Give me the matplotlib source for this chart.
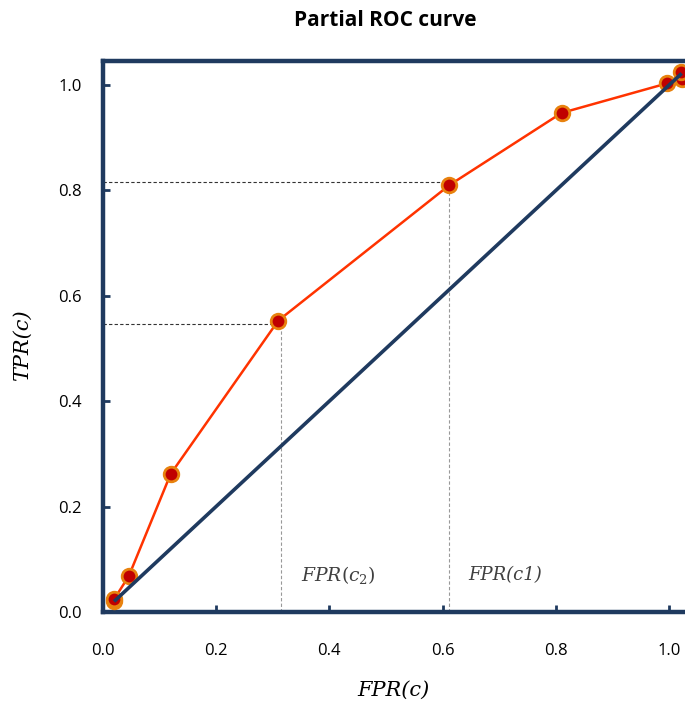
import matplotlib
matplotlib.use("Agg")
import matplotlib.pyplot as plt

plt.rcParams["mathtext.fontset"] = "dejavuserif"

# Data
fpr = [0.02, 0.02, 0.046, 0.12, 0.31, 0.612, 0.81, 0.996, 1.022, 1.02]
tpr = [0.02, 0.024, 0.068, 0.262, 0.553, 0.81, 0.947, 1.003, 1.012, 1.024]
diag_x = [0.02, 1.022]
diag_y = [0.02, 1.022]
h_ref_y = [0.546, 0.816]
h_ref_xend = [0.31, 0.612]
v_ref_x = [0.314, 0.612]
v_ref_ytop = [0.535, 0.8]
xticks = [0.0, 0.2, 0.4, 0.6, 0.8, 1.0]
yticks = [0.0, 0.2, 0.4, 0.6, 0.8, 1.0]
ann_labels = [r"$\mathit{FPR(c_2)}$", "FPR(c1)"]
ann_x = [0.35, 0.645]
ann_y = [0.07, 0.07]

navy = "#1F3A5F"
W, H = 685, 709
fig = plt.figure(figsize=(W / 100, H / 100), dpi=100)
left, bottom, top = 102.7, 612, 61
xmax = 1.06
ax = fig.add_axes([left / W, (H - bottom) / H, (566.5 * xmax) / W, (bottom - top) / H])
ax.set_xlim(0, xmax)
ax.set_ylim(0, (bottom - top) / 527)

for s in ax.spines.values():
    s.set_color(navy)
    s.set_linewidth(3.2)

# reference lines
for y, xe in zip(h_ref_y, h_ref_xend):
    ax.plot([0, xe], [y, y], ls=(0, (3, 2)), color="#333333", lw=0.8, zorder=2)
for x, yt in zip(v_ref_x, v_ref_ytop):
    ax.plot([x, x], [0, yt], ls=(0, (3, 2)), color="#999999", lw=0.8, zorder=2)

ax.plot(fpr, tpr, color="#FF3300", lw=1.8, marker="o", ms=10.5,
        markerfacecolor="#C00000", markeredgecolor="#E8820E", mew=2.0, zorder=4)
ax.plot(diag_x, diag_y, color=navy, lw=2.6, zorder=5, solid_capstyle="butt")

ax.text(ann_x[0], ann_y[0], ann_labels[0], color="#404040", fontsize=13.5,
        ha="left", va="center")
ax.text(ann_x[1], ann_y[1], ann_labels[1], color="#404040", fontsize=13,
        family="DejaVu Serif", style="italic", ha="left", va="center")

ax.set_xticks(xticks)
ax.set_yticks(yticks)
ax.set_xticklabels([f"{v:.1f}" for v in xticks], family="Open Sans", fontsize=12)
ax.set_yticklabels([f"{v:.1f}" for v in yticks], family="Open Sans", fontsize=12)
ax.tick_params(axis="x", direction="in", length=5, width=2, color=navy, pad=22)
ax.tick_params(axis="y", direction="in", length=5, width=2, color=navy, pad=15)

fig.text(393 / W, 1 - 690 / H, "FPR(c)", family="DejaVu Serif", style="italic",
         fontsize=15, ha="center", va="center")
fig.text(22 / W, 1 - 345 / H, "TPR(c)", family="DejaVu Serif", style="italic",
         fontsize=15, ha="center", va="center", rotation=90)
fig.text(385 / W, 1 - 20 / H, "Partial ROC curve", family="Open Sans",
         fontweight="bold", fontsize=15, ha="center", va="center")

fig.savefig("out.png", dpi=100)
